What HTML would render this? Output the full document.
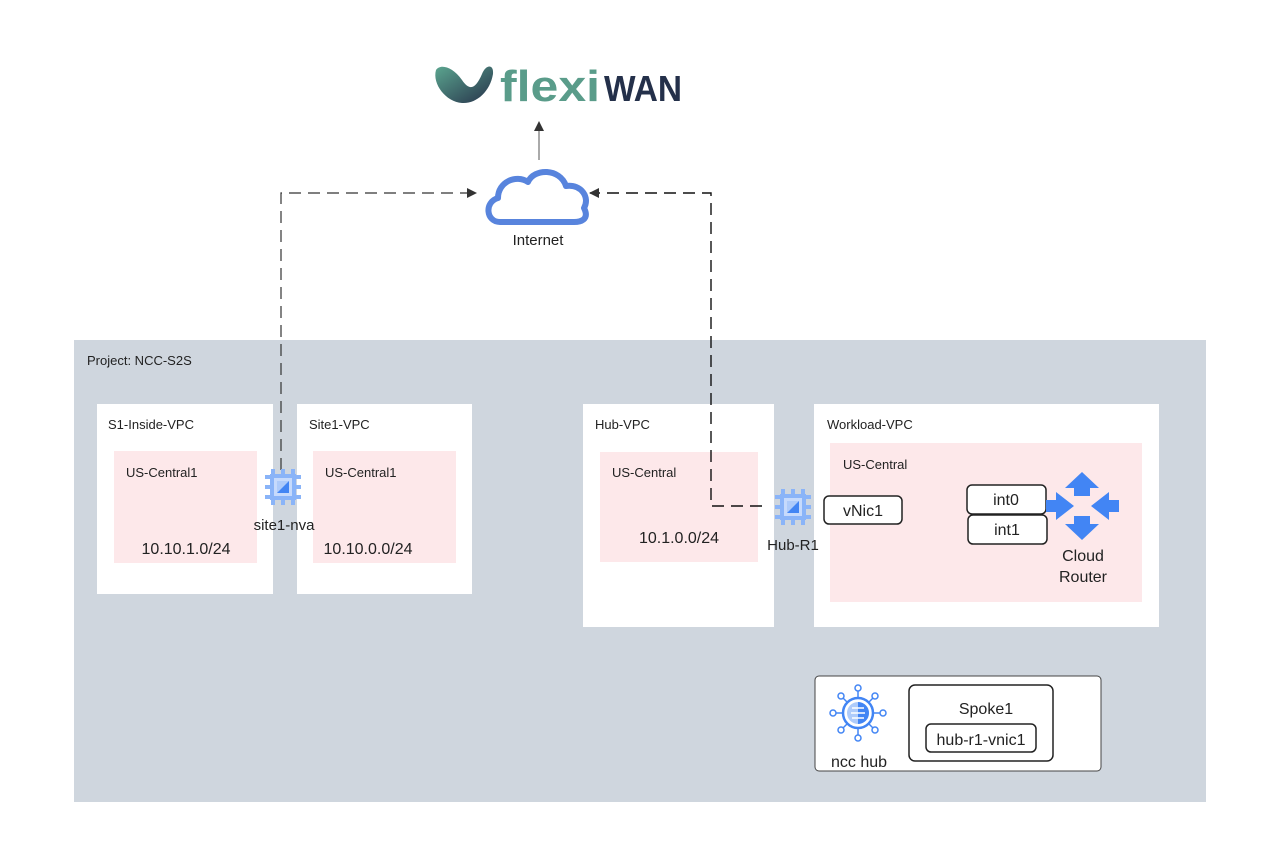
<!DOCTYPE html>
<html><head><style>
body{margin:0;background:#fff;}
svg text{font-family:"Liberation Sans",sans-serif;fill:#222;}
</style></head><body>
<svg width="1280" height="858" viewBox="0 0 1280 858" xmlns="http://www.w3.org/2000/svg">
<defs>
<marker id="ar" markerWidth="10" markerHeight="10" refX="9" refY="5" orient="auto" markerUnits="userSpaceOnUse"><path d="M0,0 L10,5 L0,10 z" fill="#333"/></marker>
<linearGradient id="lg" x1="0" y1="0" x2="1" y2="1"><stop offset="0" stop-color="#5ba58f"/><stop offset="1" stop-color="#26324a"/></linearGradient>
<g id="chip">
 <g fill="#8ab4f8">
  <rect x="-12" y="-18" width="4" height="6"/><rect x="-2" y="-18" width="4" height="6"/><rect x="8" y="-18" width="4" height="6"/>
  <rect x="-12" y="12" width="4" height="6"/><rect x="-2" y="12" width="4" height="6"/><rect x="8" y="12" width="4" height="6"/>
  <rect x="-18" y="-12" width="6" height="4"/><rect x="-18" y="-2" width="6" height="4"/><rect x="-18" y="8" width="6" height="4"/>
  <rect x="12" y="-12" width="6" height="4"/><rect x="12" y="-2" width="6" height="4"/><rect x="12" y="8" width="6" height="4"/>
  <rect x="-13" y="-13" width="26" height="26"/>
 </g>
 <rect x="-9" y="-9" width="18" height="18" fill="#c6dafc"/>
 <rect x="-6" y="-6" width="12" height="12" fill="#aecbfa"/>
 <path d="M6,-6 L6,6 L-6,6 z" fill="#4285f4"/>
</g>
</defs>

<!-- logo -->
<path d="M436,70 C440,64 452,66 462,80 C470,92 476,88 482,74 C486,64 494,64 493,74 C490,92 476,104 462,103 C446,102 432,84 436,70 z" fill="url(#lg)"/>
<text x="500" y="101" font-size="44" font-weight="bold" textLength="100" lengthAdjust="spacingAndGlyphs" style="fill:#5a9c8a">flexi</text>
<text x="604" y="101" font-size="36" font-weight="bold" textLength="78" lengthAdjust="spacingAndGlyphs" style="fill:#24304a">WAN</text>

<!-- cloud -->
<path d="M500,222 C486,222 484,202 498,198 C498,182 516,174 528,182 C534,168 560,168 566,186 C582,184 590,198 584,208 C590,220 580,222 574,222 z" fill="none" stroke="#5884dd" stroke-width="6" stroke-linejoin="round"/>
<text x="538" y="245" font-size="15" text-anchor="middle">Internet</text>
<line x1="539" y1="160" x2="539" y2="122" stroke="#555" stroke-width="1" marker-end="url(#ar)"/>

<!-- project -->
<rect x="74" y="340" width="1132" height="462" fill="#cfd6de"/>
<text x="87" y="365" font-size="13">Project: NCC-S2S</text>

<!-- boxes -->
<rect x="97" y="404" width="176" height="190" fill="#fff"/>
<text x="108" y="429" font-size="13">S1-Inside-VPC</text>
<rect x="114" y="451" width="143" height="112" fill="#fde8ea"/>
<text x="126" y="477" font-size="13">US-Central1</text>
<text x="186" y="554" font-size="16" text-anchor="middle">10.10.1.0/24</text>

<rect x="297" y="404" width="175" height="190" fill="#fff"/>
<text x="309" y="429" font-size="13">Site1-VPC</text>
<rect x="313" y="451" width="143" height="112" fill="#fde8ea"/>
<text x="325" y="477" font-size="13">US-Central1</text>
<text x="368" y="554" font-size="16" text-anchor="middle">10.10.0.0/24</text>

<rect x="583" y="404" width="191" height="223" fill="#fff"/>
<text x="595" y="429" font-size="13">Hub-VPC</text>
<rect x="600" y="452" width="158" height="110" fill="#fde8ea"/>
<text x="612" y="477" font-size="13">US-Central</text>
<text x="679" y="543" font-size="16" text-anchor="middle">10.1.0.0/24</text>

<rect x="814" y="404" width="345" height="223" fill="#fff"/>
<text x="827" y="429" font-size="13">Workload-VPC</text>
<rect x="830" y="443" width="312" height="159" fill="#fde8ea"/>
<text x="843" y="469" font-size="13">US-Central</text>

<!-- connectors -->
<polyline points="281,470 281,193 476,193" fill="none" stroke="#333" stroke-width="1.2" stroke-dasharray="12,7" marker-end="url(#ar)"/>
<polyline points="762,506 711,506 711,193 590,193" fill="none" stroke="#111" stroke-width="1.4" stroke-dasharray="12,7" marker-end="url(#ar)"/>

<!-- chips -->
<use href="#chip" x="283" y="487"/>
<text x="284" y="530" font-size="15" text-anchor="middle">site1-nva</text>
<use href="#chip" x="793" y="507"/>
<text x="793" y="550" font-size="15" text-anchor="middle">Hub-R1</text>

<rect x="824" y="496" width="78" height="28" rx="5" fill="#fff" stroke="#222" stroke-width="1.5"/>
<text x="863" y="516" font-size="16" text-anchor="middle">vNic1</text>
<rect x="967" y="485" width="79" height="29" rx="5" fill="#fff" stroke="#222" stroke-width="1.5"/>
<text x="1006" y="505" font-size="16" text-anchor="middle">int0</text>
<rect x="968" y="515" width="79" height="29" rx="5" fill="#fff" stroke="#222" stroke-width="1.5"/>
<text x="1007" y="535" font-size="16" text-anchor="middle">int1</text>

<!-- cloud router -->
<g fill="#4285f4">
 <path d="M1082,472 L1099,488 L1090,488 L1090,496 L1074,496 L1074,488 L1065,488 z"/>
 <path d="M1082,540 L1099,524 L1090,524 L1090,516 L1074,516 L1074,524 L1065,524 z"/>
 <path d="M1046,500 L1056,500 L1056,492 L1074,506 L1056,520 L1056,512 L1046,512 z"/>
 <path d="M1119,500 L1109,500 L1109,492 L1091,506 L1109,520 L1109,512 L1119,512 z"/>
</g>
<text x="1083" y="561" font-size="16" text-anchor="middle">Cloud</text>
<text x="1083" y="582" font-size="16" text-anchor="middle">Router</text>

<!-- ncc hub -->
<rect x="815" y="676" width="286" height="95" rx="4" fill="#fff" stroke="#444" stroke-width="1"/>
<g stroke="#4285f4" stroke-width="1.5" fill="#fff">
 <line x1="858" y1="690" x2="858" y2="736"/><line x1="835" y1="713" x2="881" y2="713"/>
 <line x1="842" y1="697" x2="874" y2="729"/><line x1="874" y1="697" x2="842" y2="729"/>
 <circle cx="858" cy="688" r="3"/><circle cx="858" cy="738" r="3"/><circle cx="833" cy="713" r="3"/><circle cx="883" cy="713" r="3"/>
 <circle cx="841" cy="696" r="3"/><circle cx="875" cy="696" r="3"/><circle cx="841" cy="730" r="3"/><circle cx="875" cy="730" r="3"/>
 <circle cx="858" cy="713" r="15" stroke-width="2.5"/>
</g>
<circle cx="858" cy="713" r="11" fill="#aecbfa"/>
<path d="M858,702 A11,11 0 0 1 858,724 z" fill="#4285f4"/>
<g stroke="#fff" stroke-width="1.5"><line x1="852" y1="708" x2="864" y2="708"/><line x1="851" y1="713" x2="865" y2="713"/><line x1="852" y1="718" x2="864" y2="718"/></g>
<text x="859" y="767" font-size="16" text-anchor="middle">ncc hub</text>

<rect x="909" y="685" width="144" height="76" rx="6" fill="#fff" stroke="#222" stroke-width="1.5"/>
<text x="986" y="714" font-size="16" text-anchor="middle">Spoke1</text>
<rect x="926" y="724" width="110" height="28" rx="5" fill="#fff" stroke="#222" stroke-width="1.5"/>
<text x="981" y="745" font-size="16" text-anchor="middle">hub-r1-vnic1</text>
</svg>
</body></html>
